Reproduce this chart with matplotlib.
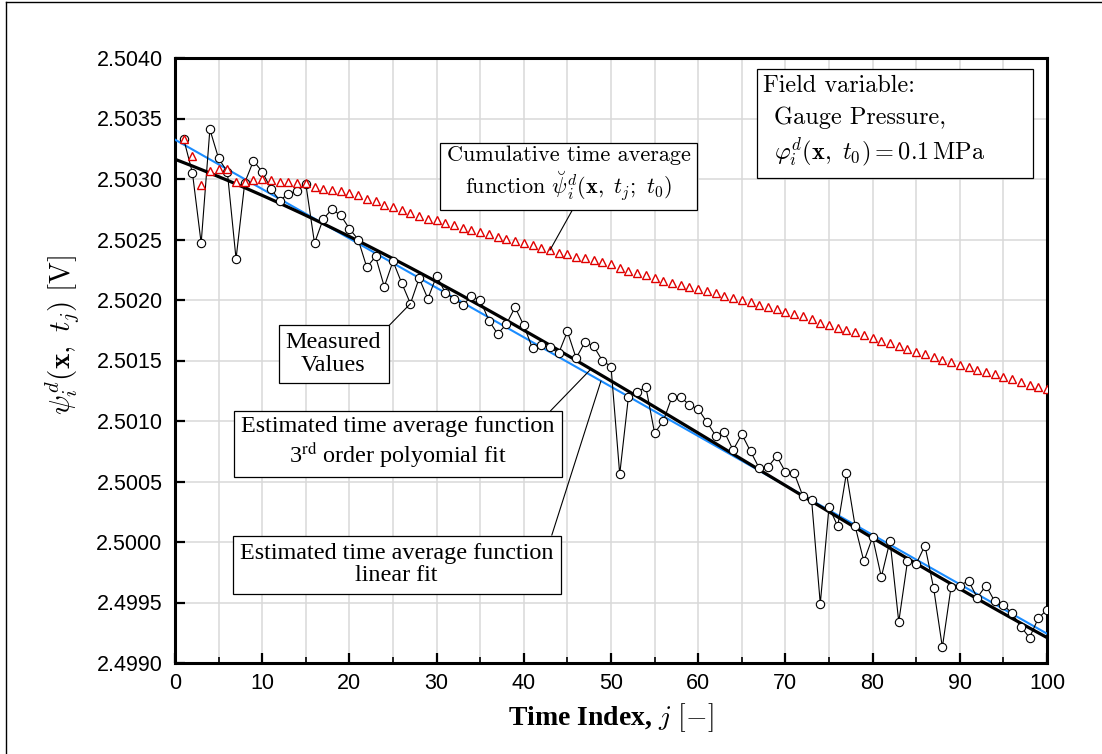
import numpy as np
import matplotlib

matplotlib.use("Agg")
import matplotlib.pyplot as plt
from matplotlib.lines import Line2D
from matplotlib.patches import Rectangle
from matplotlib.ticker import MultipleLocator, FormatStrFormatter

plt.rcParams["mathtext.fontset"] = "cm"

time_index = np.arange(1, 101)
measured = np.array([
    2.50333, 2.50305, 2.50247, 2.50341, 2.50317, 2.50306, 2.50234, 2.50297, 2.50315, 2.50306,
    2.50292, 2.50282, 2.50288, 2.50290, 2.50296, 2.50247, 2.50267, 2.50275, 2.50270, 2.50259,
    2.50250, 2.50227, 2.50236, 2.50211, 2.50232, 2.50214, 2.50197, 2.50218, 2.50201, 2.50220,
    2.50206, 2.50201, 2.50196, 2.50203, 2.50200, 2.50183, 2.50172, 2.50180, 2.50194, 2.50179,
    2.50160, 2.50163, 2.50161, 2.50156, 2.50174, 2.50152, 2.50165, 2.50162, 2.50150, 2.50145,
    2.50056, 2.50120, 2.50124, 2.50128, 2.50090, 2.50100, 2.50120, 2.50120, 2.50113, 2.50110,
    2.50099, 2.50088, 2.50091, 2.50076, 2.50089, 2.50075, 2.50061, 2.50062, 2.50071, 2.50058,
    2.50057, 2.50038, 2.50035, 2.49949, 2.50029, 2.50013, 2.50057, 2.50013, 2.49984, 2.50004,
    2.49971, 2.50001, 2.49934, 2.49984, 2.49982, 2.49997, 2.49962, 2.49913, 2.49963, 2.49964,
    2.49968, 2.49954, 2.49964, 2.49951, 2.49948, 2.49941, 2.49930, 2.49921, 2.49937, 2.49944,
])

x_ticks = np.arange(0, 101, 10)
y_ticks = np.arange(2.4990, 2.50401, 0.0005)

# cumulative time average and the two fitted time average functions
cum_avg = np.cumsum(measured) / time_index
lin_coef = np.polyfit(time_index, measured, 1)
cub_coef = np.polyfit(time_index, measured, 3)
j_fit = np.linspace(0, 100, 201)

fig = plt.figure(figsize=(11.02, 7.54), dpi=100)
ax = fig.add_axes([175 / 1102, 1 - 663 / 754, 872 / 1102, 605 / 754])

ax.plot(j_fit, np.polyval(lin_coef, j_fit), color="#1a8cff", lw=1.5, zorder=3)
ax.plot(j_fit, np.polyval(cub_coef, j_fit), color="black", lw=2.3, zorder=4)
ax.plot(time_index, measured, color="black", lw=0.8, marker="o", ms=6.0,
        mfc="white", mec="black", mew=0.8, zorder=5)
ax.plot(time_index, cum_avg, ls="none", marker="^", ms=5.3, mfc="white",
        mec="#e00000", mew=1.0, zorder=6)

ax.set_xlim(0, 100)
ax.set_ylim(2.4990, 2.5040)
ax.set_xticks(x_ticks)
ax.xaxis.set_minor_locator(MultipleLocator(5))
ax.set_yticks(y_ticks)
ax.yaxis.set_major_formatter(FormatStrFormatter("%.4f"))
ax.grid(True, which="major", color="#d9d9d9", lw=1.1, zorder=0)
ax.grid(True, which="minor", axis="x", color="#d9d9d9", lw=1.1, zorder=0)
ax.set_axisbelow(True)
ax.tick_params(which="major", direction="in", length=7, width=1.6, pad=7,
               labelsize=15.5)
ax.tick_params(which="minor", direction="in", length=4, width=1.2)
ax.tick_params(axis="y", pad=9)
for lab in ax.get_xticklabels() + ax.get_yticklabels():
    lab.set_family("Liberation Sans")
for sp in ax.spines.values():
    sp.set_linewidth(2.2)

ax.set_xlabel(r"Time Index, $j\ [-]$", family="Liberation Serif", fontweight="bold",
              fontsize=20, math_fontfamily="cm", va="center")
ax.xaxis.set_label_coords(0.5, -0.091)
ax.set_ylabel(r"$\psi_i^d(\mathbf{x},\ t_j)\ [\mathrm{V}]$", fontsize=21,
              rotation=90, va="center", ha="center")
ax.yaxis.set_label_coords(-0.1296, 0.542)

box = dict(boxstyle="square,pad=0.3", fc="white", ec="black", lw=0.9)
line = dict(arrowstyle="-", color="black", lw=0.8, shrinkA=0, shrinkB=0)

ax.annotate("Cumulative time average\n" + r"function $\breve{\psi}_i^d(\mathbf{x},\ t_j;\ t_0)$",
            xy=(time_index[42], cum_avg[42]), xytext=(0.4516, 0.808),
            textcoords="axes fraction", ha="center", va="center", family="cmr10",
            fontsize=16, bbox=box, arrowprops=dict(line, relpos=(0.53, 0.0)), zorder=8)
ax.annotate("Measured\nValues", xy=(time_index[26], measured[26]), xytext=(0.1818, 0.5107),
            textcoords="axes fraction", ha="center", va="center", family="Liberation Serif",
            fontsize=17.4, linespacing=1.1, bbox=box,
            arrowprops=dict(line, relpos=(1.0, 0.97)), zorder=8)
ax.annotate("Estimated time average function\n" + r"3$^{\mathrm{rd}}$ order polyomial fit",
            xy=(47.7, np.polyval(cub_coef, 47.7)), xytext=(0.2555, 0.3636),
            textcoords="axes fraction", ha="center", va="center", family="Liberation Serif",
            math_fontfamily="stix", fontsize=17.4, linespacing=1.1, bbox=box,
            arrowprops=dict(line, relpos=(0.97, 1.0)), zorder=8)
ax.annotate("Estimated time average function\nlinear fit",
            xy=(48.85, np.polyval(lin_coef, 48.85)), xytext=(0.2542, 0.1625),
            textcoords="axes fraction", ha="center", va="center", family="Liberation Serif",
            fontsize=17.4, linespacing=1.1, bbox=box,
            arrowprops=dict(line, relpos=(0.987, 1.0)), zorder=8)

# field variable box
ax.add_patch(Rectangle((0.6674, 0.8017), 0.3165, 0.1801, transform=ax.transAxes,
                       fc="white", ec="black", lw=0.9, zorder=8))
ax.text(0.6743, 0.954, "Field variable:", transform=ax.transAxes, family="cmr10",
        fontsize=17.5, va="center", ha="left", zorder=9)
ax.text(0.6875, 0.901, "Gauge Pressure,", transform=ax.transAxes, family="cmr10",
        fontsize=17.5, va="center", ha="left", zorder=9)
ax.text(0.6875, 0.845, r"$\varphi_i^d(\mathbf{x},\ t_0) = 0.1\,\mathrm{MPa}$",
        transform=ax.transAxes, fontsize=17.5, va="center", ha="left", zorder=9)

# partial frame around the figure
fig.add_artist(Line2D([6 / 1102, 6 / 1102], [0, 1 - 2 / 754], transform=fig.transFigure,
                      color="black", lw=1))
fig.add_artist(Line2D([6 / 1102, 1], [1 - 2 / 754, 1 - 2 / 754], transform=fig.transFigure,
                      color="black", lw=1))

fig.savefig("out.png", dpi=100)
